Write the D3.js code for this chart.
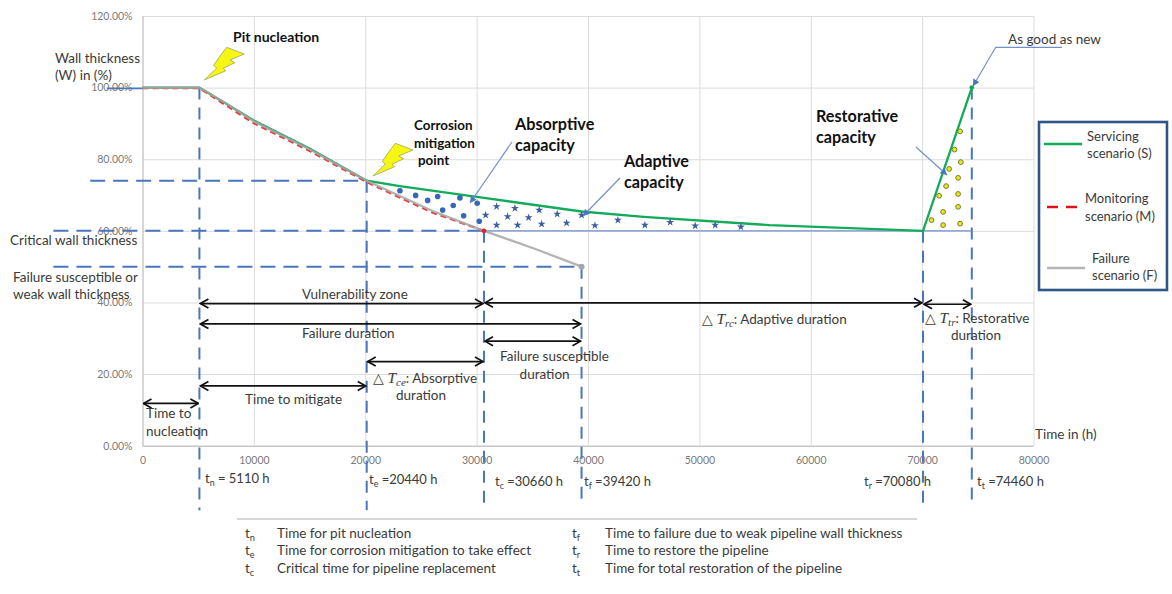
<!DOCTYPE html>
<html>

<head>
    <title>Pipeline wall thickness resilience scenarios</title>
    <style>
        html, body {
            margin: 0;
            background: #fff;
        }

        svg {
            display: block;
        }

        text {
            font-family: Lato, "Open Sans", sans-serif;
            fill: #3a3a3a;
        }
    </style>
    <script src="https://d3js.org/d3.v7.min.js"></script>
</head>

<body>
    <svg width="1172" height="594"></svg>

    <script>
        // values
        var xTicks = [0, 10000, 20000, 30000, 40000, 50000, 60000, 70000, 80000];
        var yTicks = [0, 20, 40, 60, 80, 100, 120];

        // tE sits a little left of its printed 20440 h in the picture
        var tN = 5110, tE = 20130, tC = 30660, tF = 39420, tR = 70080, tT = 74460;

        var failureTime = [0, tN, 7500, 10000, 15000, tE, 26000, tC, 35400, tF];
        var failureWall = [100, 100, 95.6, 90.6, 82.8, 74, 65.6, 60, 54.8, 50];
        var monitorTime = [0, tN, 7500, 10000, 15000, tE, 26000, tC];
        var monitorWall = [99.8, 99.8, 95, 90, 82.3, 73.6, 65.1, 60];
        var serviceTime = [0, tN, 10000, 15000, tE, 23100, tC, tF, 45000, 56300, tR, tT];
        var serviceWall = [100, 100, 90.8, 83, 74, 72.5, 69.2, 65.4, 63.9, 61.6, 60, 100];

        var dotTime = [23115, 24524, 25601, 26499, 28501, 30054, 26948, 27899, 28833, 30233];
        var dotWall = [71.2, 69.9, 68.5, 69.6, 69.2, 67.7, 65.8, 67.1, 64.2, 62.7];

        var starTime = [30808, 31795, 33438, 35620, 37235, 39425, 32783, 34668, 31795, 33680,
            35835, 38079, 40619, 42684, 45108, 47379, 49623, 51418, 53725];
        var starWall = [64.4, 66.8, 66.3, 65.8, 64.7, 64.4, 64.0, 63.7, 61.6, 61.6,
            61.9, 62.2, 61.5, 63.0, 61.6, 62.4, 61.4, 61.6, 61.1];

        var yellowTime = [73411, 72908, 73474, 72424, 73232, 72154, 71526, 73232, 71885, 73232, 70844, 71885, 73411];
        var yellowWall = [87.8, 82.7, 79.2, 77.3, 74.8, 72.5, 69.8, 70.3, 65.3, 66.7, 63.0, 61.6, 62.0];

        // guide lines: [time, top wall %, bottom wall %]
        var dropTime = [tN, tE, tC, tF, tR, tT];
        var dropTop = [100, 74, 60, 50, 60, 100];
        var dropBottom = [-18, -18, -17, -17, -18, -17];

        // horizontal guides: wall %, and the time they run to, left end runs past the axis
        var guideWall = [74, 60, 50];
        var guideLeft = [-4700, -8000, -8000];
        var guideRight = [tE, tC, tF];

        // duration arrows: from, to, wall % level
        var spanFrom = [0, tN, tN, tC, tR, tN, tC, tE];
        var spanTo = [tN, tE, tC, tR, tT, tF, tF, tC];
        var spanLevel = [11.8, 16.7, 39.7, 39.9, 39.5, 34, 29.2, 23.5];

        var legendNames = [["Servicing", "scenario (S)"], ["Monitoring", "scenario (M)"], ["Failure", "scenario (F)"]];

        var notesLeft = [["n", "Time for pit nucleation"], ["e", "Time for corrosion mitigation to take effect"], ["c", "Critical time for pipeline replacement"]];
        var notesRight = [["f", "Time to failure due to weak pipeline wall thickness"], ["r", "Time to restore the pipeline"], ["t", "Time for total restoration of the pipeline"]];

        var x = d3.scaleLinear().domain([0, 80000]).range([142.5, 1033.5]);
        var y = d3.scaleLinear().domain([0, 120]).range([445.7, 16]);

        var svg = d3.select("svg");

        var blue = "#4a76bd", callout = "#7390c8";

        var defs = svg.append("defs");
        defs.append("marker")
            .attr("id", "open")
            .attr("markerUnits", "userSpaceOnUse")
            .attr("viewBox", "-10 -6 11 12")
            .attr("refX", 0).attr("refY", 0)
            .attr("markerWidth", 11).attr("markerHeight", 12)
            .attr("orient", "auto-start-reverse")
            .append("path")
            .attr("d", "M-8,-4.5L0,0L-8,4.5")
            .attr("fill", "none").attr("stroke", "#111").attr("stroke-width", 1.7);
        defs.append("marker")
            .attr("id", "tri")
            .attr("markerUnits", "userSpaceOnUse")
            .attr("viewBox", "-7 -4 8 8")
            .attr("refX", 0).attr("refY", 0)
            .attr("markerWidth", 8).attr("markerHeight", 8)
            .attr("orient", "auto")
            .append("path")
            .attr("d", "M-6.5,-3.5L0,0L-6.5,3.5Z")
            .attr("fill", blue);

        // gridlines and axes
        var yAxis = svg.append("g")
            .attr("transform", "translate(142.5,0)")
            .call(d3.axisLeft(y).tickValues(yTicks).tickSize(-891).tickPadding(10)
                .tickFormat(function (d) { return d.toFixed(2) + "%"; }));
        var xAxis = svg.append("g")
            .attr("transform", "translate(0,445.7)")
            .call(d3.axisBottom(x).tickValues(xTicks).tickSize(-429.7).tickPadding(11)
                .tickFormat(function (d) { return d; }));

        [xAxis, yAxis].forEach(function (a) {
            a.select(".domain").remove();
            a.selectAll("line").attr("stroke", "#dcdcdc").attr("stroke-width", 1);
            a.selectAll("text").style("fill", "#7a7a7a").attr("font-size", 10.5).attr("font-family", "Lato");
        });
        yAxis.selectAll("line").filter(function (d) { return d === 0; }).attr("stroke", "#c6c6c6").attr("stroke-width", 1.4);
        xAxis.selectAll("line").filter(function (d) { return d === 0; }).attr("stroke", "#c6c6c6").attr("stroke-width", 1.4);

        // dashed guides
        svg.append("g").selectAll("line")
            .data(dropTime)
            .enter().append("line")
            .attr("x1", function (d) { return x(d); })
            .attr("x2", function (d) { return x(d); })
            .attr("y1", function (d, i) { return y(dropTop[i]); })
            .attr("y2", function (d, i) { return y(dropBottom[i]); })
            .attr("stroke", blue).attr("stroke-width", 2).attr("stroke-dasharray", "12,8");

        svg.append("g").selectAll("line")
            .data(guideWall)
            .enter().append("line")
            .attr("x1", function (d, i) { return x(guideLeft[i]); })
            .attr("x2", function (d, i) { return x(guideRight[i]); })
            .attr("y1", function (d) { return y(d); })
            .attr("y2", function (d) { return y(d); })
            .attr("stroke", blue).attr("stroke-width", 2).attr("stroke-dasharray", "15,8");

        // solid bits at 100% and 60%
        svg.append("line")
            .attr("x1", x(-3200)).attr("x2", x(0)).attr("y1", y(99.8)).attr("y2", y(99.8))
            .attr("stroke", blue).attr("stroke-width", 1.6);
        svg.append("line")
            .attr("x1", x(tC)).attr("x2", x(tT)).attr("y1", y(60)).attr("y2", y(60))
            .attr("stroke", "#6f8fc8").attr("stroke-width", 1.3);

        // scenario lines
        var line = d3.line()
            .x(function (d) { return x(d[0]); })
            .y(function (d) { return y(d[1]); });

        svg.append("path")
            .attr("d", line(d3.zip(serviceTime, serviceWall)))
            .attr("fill", "none").attr("stroke", "#12ab5a").attr("stroke-width", 2.3);
        svg.append("path")
            .attr("d", line(d3.zip(monitorTime, monitorWall)))
            .attr("fill", "none").attr("stroke", "#e2403f").attr("stroke-width", 2).attr("stroke-dasharray", "6,4");
        svg.append("path")
            .attr("d", line(d3.zip(failureTime, failureWall)))
            .attr("fill", "none").attr("stroke", "#a6a6a6").attr("stroke-width", 2.3).attr("stroke-opacity", 0.85);

        svg.append("circle").attr("cx", x(tF)).attr("cy", y(50)).attr("r", 3).attr("fill", "#a6a6a6");
        svg.append("circle").attr("cx", x(tC)).attr("cy", y(60)).attr("r", 2.4).attr("fill", "#e0202a");
        svg.append("circle").attr("cx", x(tT)).attr("cy", y(100)).attr("r", 2.4).attr("fill", "#12ab5a");

        // capacity markers
        svg.append("g").selectAll("circle")
            .data(dotTime)
            .enter().append("circle")
            .attr("cx", function (d) { return x(d); })
            .attr("cy", function (d, i) { return y(dotWall[i]); })
            .attr("r", 2.8)
            .attr("fill", "#3668b3");

        var star = d3.symbol().type(d3.symbolStar).size(20);
        svg.append("g").selectAll("path")
            .data(starTime)
            .enter().append("path")
            .attr("d", star)
            .attr("transform", function (d, i) { return "translate(" + x(d) + "," + y(starWall[i]) + ")"; })
            .attr("fill", "#3d5f9e");

        svg.append("g").selectAll("circle")
            .data(yellowTime)
            .enter().append("circle")
            .attr("cx", function (d) { return x(d); })
            .attr("cy", function (d, i) { return y(yellowWall[i]); })
            .attr("r", 2.4)
            .attr("fill", "#e9e91c").attr("stroke", "#66702a").attr("stroke-width", 0.9);

        // duration arrows
        svg.append("g").selectAll("line")
            .data(spanFrom)
            .enter().append("line")
            .attr("x1", function (d) { return x(d) + 1; })
            .attr("x2", function (d, i) { return x(spanTo[i]) - 1; })
            .attr("y1", function (d, i) { return y(spanLevel[i]); })
            .attr("y2", function (d, i) { return y(spanLevel[i]); })
            .attr("stroke", "#111").attr("stroke-width", 1.7)
            .attr("marker-start", "url(#open)").attr("marker-end", "url(#open)");

        // lightning bolts
        var boltShape = "M226.7,47.3L244.3,54L230,60L235,62.7L223.3,68.3L226,70.7L204.3,80L216.7,68L213.5,65.5L220,56Z";
        [[0, 0], [168.7, 96]].forEach(function (o) {
            svg.append("path")
                .attr("d", boltShape)
                .attr("transform", "translate(" + o[0] + "," + o[1] + ")")
                .attr("fill", "#f6f614").attr("stroke", "#9a9a55").attr("stroke-width", 0.7);
        });

        // callout arrows
        [
            [[512, 142], [470, 203]],
            [[620, 178], [583, 216]],
            [[916, 147], [947, 175]],
            [[1062, 47.3], [995.7, 47.3], [973, 86]]
        ].forEach(function (pts) {
            svg.append("path")
                .attr("d", d3.line()(pts))
                .attr("fill", "none").attr("stroke", callout).attr("stroke-width", 1.2)
                .attr("marker-end", "url(#tri)");
        });

        // text helpers, a part is [string, kind] where kind is "sub" or "math"
        function label(px, py, parts, opts) {
            opts = opts || {};
            var t = svg.append("text")
                .attr("x", px).attr("y", py)
                .attr("font-size", opts.size || 13.5)
                .attr("font-weight", opts.bold ? 700 : 400)
                .attr("text-anchor", opts.anchor || "start");
            if (opts.color) t.style("fill", opts.color);
            var shift = 0;
            parts.forEach(function (p) {
                var s = t.append("tspan").text(p[0]);
                var want = p[1] === "sub" || p[1] === "mathsub" ? 3 : 0;
                if (want !== shift) { s.attr("dy", want - shift); shift = want; }
                if (p[1] === "sub") s.attr("font-size", (opts.size || 13.5) * 0.68);
                if (p[1] === "math" || p[1] === "mathsub") {
                    s.attr("font-family", "Liberation Serif").attr("font-style", "italic");
                    s.attr("font-size", p[1] === "mathsub" ? 11 : 15.5);
                }
            });
            return t;
        }
        function plain(px, py, str, opts) { return label(px, py, [[str]], opts); }

        var heading = { bold: true, size: 16.2, color: "#111" };
        var smallHeading = { bold: true, size: 13.4, color: "#111" };

        plain(55, 63, "Wall thickness");
        plain(55, 80, "(W) in (%)");
        plain(233, 42, "Pit nucleation", { bold: true, size: 14, color: "#111" });
        plain(10, 245, "Critical wall thickness");
        plain(13, 282, "Failure susceptible or");
        plain(13, 299, "weak wall thickness");

        plain(414, 130, "Corrosion", smallHeading);
        plain(414, 148, "mitigation", smallHeading);
        plain(418, 165, "point", smallHeading);
        plain(515, 130, "Absorptive", heading);
        plain(515, 151, "capacity", heading);
        plain(624, 167, "Adaptive", heading);
        plain(624, 188, "capacity", heading);
        plain(816, 122, "Restorative", heading);
        plain(816, 143, "capacity", heading);
        plain(1008, 44, "As good as new");

        plain(302, 299, "Vulnerability zone");
        plain(302, 338, "Failure duration");
        plain(245, 404, "Time to mitigate");
        plain(146, 418, "Time to");
        plain(146, 436, "nucleation");
        label(373, 383, [["△ "], ["T", "math"], ["ce", "mathsub"], [": Absorptive"]]);
        plain(421, 400, "duration", { anchor: "middle" });
        plain(500, 361, "Failure susceptible");
        plain(544.6, 379, "duration", { anchor: "middle" });
        label(702, 324, [["△ "], ["T", "math"], ["rc", "mathsub"], [": Adaptive duration"]]);
        label(925, 323, [["△ "], ["T", "math"], ["tr", "mathsub"], [": Restorative"]]);
        plain(976, 340, "duration", { anchor: "middle" });
        plain(1035, 439, "Time in (h)");

        var stamp = { size: 13 };
        label(205, 483, [["t"], ["n", "sub"], [" = 5110 h"]], stamp);
        label(369, 484, [["t"], ["e", "sub"], [" =20440 h"]], stamp);
        label(495, 486, [["t"], ["c", "sub"], [" =30660 h"]], stamp);
        label(584, 486, [["t"], ["f", "sub"], [" =39420 h"]], stamp);
        label(864, 486, [["t"], ["r", "sub"], [" =70080 h"]], stamp);
        label(977, 486, [["t"], ["t", "sub"], [" =74460 h"]], stamp);

        // legend
        svg.append("rect")
            .attr("x", 1039).attr("y", 122).attr("width", 128).attr("height", 168)
            .attr("fill", "#fff").attr("stroke", "#2f5587").attr("stroke-width", 2.6);
        svg.append("line").attr("x1", 1044).attr("x2", 1082).attr("y1", 144).attr("y2", 144)
            .attr("stroke", "#12ab5a").attr("stroke-width", 2.6);
        svg.append("line").attr("x1", 1047).attr("x2", 1078).attr("y1", 207).attr("y2", 207)
            .attr("stroke", "#e0101a").attr("stroke-width", 2.4).attr("stroke-dasharray", "11,8");
        svg.append("line").attr("x1", 1047).attr("x2", 1085).attr("y1", 268).attr("y2", 268)
            .attr("stroke", "#b5b5b5").attr("stroke-width", 2.4);
        plain(1087, 141, legendNames[0][0], { size: 13 });
        plain(1087, 158, legendNames[0][1], { size: 13 });
        plain(1085, 203, legendNames[1][0], { size: 13 });
        plain(1085, 221, legendNames[1][1], { size: 13 });
        plain(1092, 263, legendNames[2][0], { size: 13 });
        plain(1092, 280, legendNames[2][1], { size: 13 });

        // notes under the chart
        svg.append("line").attr("x1", 237).attr("x2", 917).attr("y1", 519).attr("y2", 519)
            .attr("stroke", "#d6d6d6").attr("stroke-width", 1.8);
        [[notesLeft, 245, 277], [notesRight, 572, 605]].forEach(function (col) {
            col[0].forEach(function (n, i) {
                label(col[1], 538 + i * 17.4, [["t"], [n[0], "sub"]], { size: 13.5 });
                plain(col[2], 538 + i * 17.4, n[1], { size: 13.5 });
            });
        });
    </script>

</body>

</html>
